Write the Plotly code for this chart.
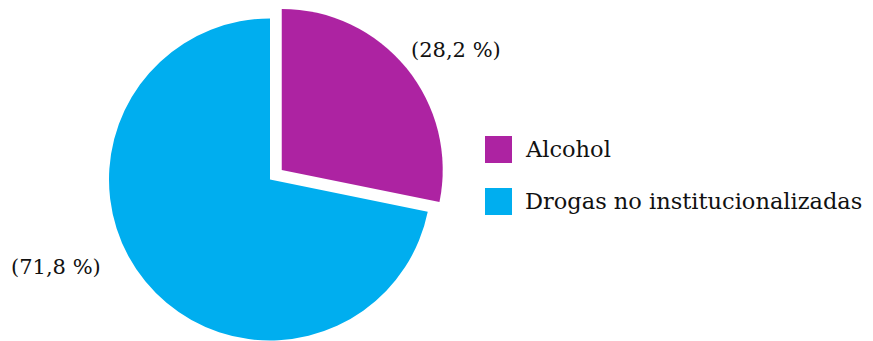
import math
import plotly.graph_objects as go

# Data
categories = ["Alcohol", "Drogas no institucionalizadas"]
values = [28.2, 71.8]
colors = ["#AD23A2", "#00AEEF"]
pulls = [0.094, 0.0]

W, H = 873, 341
FONT = "DejaVu Serif"

# Pie geometry in pixels
cx, cy, r = 270, 179.5, 161


def px_x(x):
    return x / W


def px_y(y):
    return 1 - y / H


def domain_at(cx_, cy_):
    return dict(x=[px_x(cx_ - r), px_x(cx_ + r)],
                y=[px_y(cy_ + r), px_y(cy_ - r)])


total = sum(values)
fig = go.Figure()

# One trace per slice so a pulled slice keeps the same radius as the rest
start = 0.0
for i, (cat, val) in enumerate(zip(categories, values)):
    frac = val / total
    mid = (start + frac / 2) * 2 * math.pi
    start += frac
    off = pulls[i] * r
    dx, dy = off * math.sin(mid), -off * math.cos(mid)
    slice_colors = [c if j == i else "rgba(0,0,0,0)" for j, c in enumerate(colors)]
    fig.add_trace(go.Pie(
        labels=categories,
        values=values,
        marker=dict(colors=slice_colors, line=dict(width=0)),
        sort=False,
        direction="clockwise",
        rotation=0,
        textinfo="none",
        hoverinfo="label+percent",
        showlegend=False,
        domain=domain_at(cx + dx, cy + dy),
    ))

# Value labels
def fmt(v):
    return "(" + f"{v:.1f}".replace(".", ",") + " %)"

label_pos = [(456, 50), (56, 267)]
for v, (lx, ly) in zip(values, label_pos):
    fig.add_annotation(x=px_x(lx), y=px_y(ly), xref="paper", yref="paper",
                       text=fmt(v), showarrow=False,
                       font=dict(family=FONT, size=21, color="#111111"),
                       xanchor="center", yanchor="middle")

# Legend
leg_x, leg_y0, leg_step, sq = 485, 136, 52, 27
for i, (cat, col) in enumerate(zip(categories, colors)):
    y0 = leg_y0 + i * leg_step
    fig.add_shape(type="rect", xref="paper", yref="paper",
                  x0=px_x(leg_x), x1=px_x(leg_x + sq),
                  y0=px_y(y0 + sq), y1=px_y(y0),
                  fillcolor=col, line=dict(width=0))
    fig.add_annotation(x=px_x(leg_x + sq + 11), y=px_y(y0 + sq / 2 - 1),
                       xref="paper", yref="paper", text=cat, showarrow=False,
                       font=dict(family=FONT, size=22.5, color="#111111"),
                       xanchor="left", yanchor="middle")

fig.update_layout(
    width=W, height=H,
    margin=dict(l=0, r=0, t=0, b=0),
    paper_bgcolor="white",
    plot_bgcolor="white",
    showlegend=False,
)

fig.write_html("out.html")
